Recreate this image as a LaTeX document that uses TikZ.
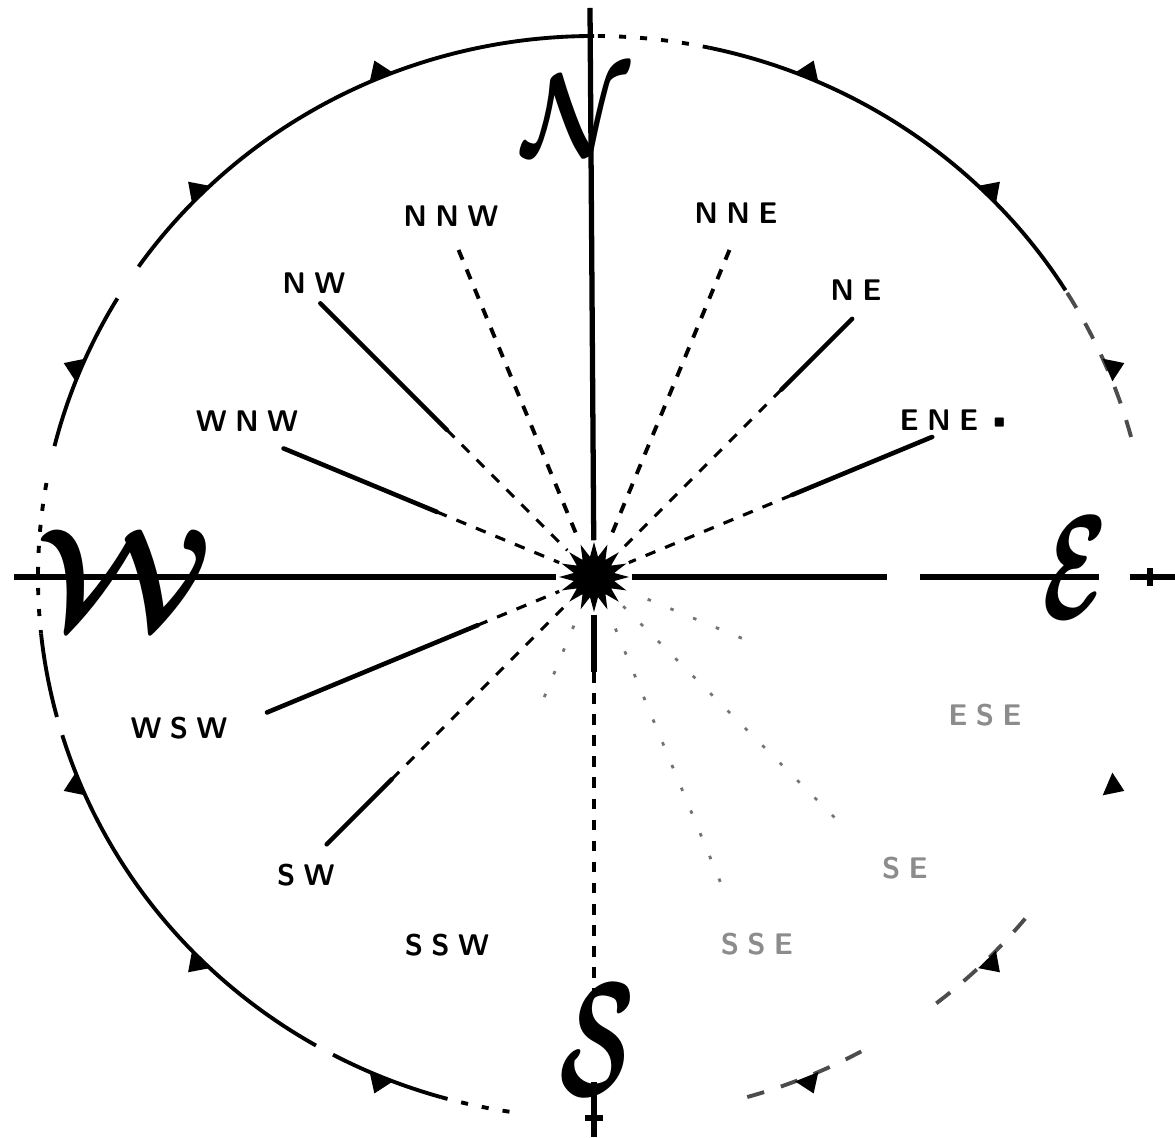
\documentclass[tikz,border=0pt]{standalone}
\usepackage{amsmath}
\usetikzlibrary{shapes.geometric}

\begin{document}
\begin{tikzpicture}[x=0.1mm, y=0.1mm,
    rim/.style={line width=1.1pt},
    axis/.style={line width=1.5pt},
    ray/.style={line width=1.3pt, line cap=round},
    dashray/.style={line width=0.9pt, dash pattern=on 3pt off 3pt},
    dotray/.style={line width=0.8pt, black!55, dash pattern=on 1pt off 6pt},
    lbl/.style={font=\sffamily\bfseries\fontsize{8.5}{8.5}\selectfont, inner sep=0},
    fadedlbl/.style={lbl, black!45},
    cardinal/.style={inner sep=0}]
  \useasboundingbox (-594,-560) rectangle (581,577);

  % hub
  \node[star, star points=16, star point ratio=1.7, fill, inner sep=0,
        minimum size=7mm] (hub) at (0,0) {};

  % rim of the card
  \foreach \a/\b in {90/145, 149/166, 186/195, 197/240, 242/254, 32/78}
    \draw[rim] (\a:556 and 541) arc[start angle=\a, end angle=\b, x radius=556, y radius=541];
  \foreach \a/\b in {78/90, 254/262, 170/186}
    \draw[rim, dash pattern=on 2pt off 4pt] (\a:556 and 541) arc[start angle=\a, end angle=\b, x radius=556, y radius=541];
  \foreach \a/\b in {15/32, 286/300, 308/322}
    \draw[rim, black!70, dash pattern=on 5pt off 5pt] (\a:556 and 541) arc[start angle=\a, end angle=\b, x radius=556, y radius=541];

  % small marks on the rim
  \foreach \a in {22.5,45,67.5,112.5,135,157.5,202.5,225,247.5,292.5,315,337.5}
    \fill ({\a-1.3}:556 and 541) -- (\a:574 and 559) -- ({\a+1.3}:556 and 541) -- cycle;

  % cardinal axes
  \coordinate (ntop) at (-4,569);
  \coordinate (wend) at (-580,0);
  \coordinate (eend) at (581,0);
  \coordinate (send) at (0,-560);
  \draw[axis] (hub) -- (ntop);
  \draw[axis] (hub) -- (wend);
  \draw[axis] (hub) -- (293,0);
  \draw[axis] (326,0) -- (505,0);
  \draw[axis] (536,0) -- (eend);
  \draw[axis] (556,-9) -- (556,9);
  \draw[axis] (hub) -- (0,-95);
  \draw[dashray] (0,-95) -- (0,-415);
  \draw[axis] (0,-505) -- (send);
  \draw[axis] (-9,-541) -- (9,-541);

  % named spokes: solid part and the run in to the hub
  \foreach \name/\ang/\ro/\ri in {nw/135/387/208, wnw/157.5/336/170,
                                  ne/45/365/265, ene/22.5/366/214,
                                  wsw/202.5/354/126, sw/225/378/286}{
    \coordinate (\name-out) at (\ang:\ro);
    \coordinate (\name-in) at (\ang:\ri);
    \draw[ray] (\name-out) -- (\name-in);
    \draw[dashray] (\name-in) -- (hub);
  }
  \coordinate (nnw-out) at (112.5:354);
  \draw[dashray, line width=1.1pt] (nnw-out) -- (hub);
  \coordinate (nne-out) at (67.5:354);
  \draw[dashray, line width=1.1pt] (nne-out) -- (hub);
  \foreach \name/\ang/\ro in {ssw/247.5/130, sse/292.5/330, se/315/340, ese/337.5/160}{
    \coordinate (\name-out) at (\ang:\ro);
    \draw[dotray] (\name-out) -- (hub);
  }

  % point names
  \node[lbl] (l-nnw) at (-143,361) {N\;N\;W};
  \node[lbl] (l-nw) at (-280,294) {N\;W};
  \node[lbl] (l-wnw) at (-347,156) {W\;N\;W};
  \node[lbl] (l-nne) at (142,364) {N\;N\;E};
  \node[lbl] (l-ne) at (262,287) {N\;E};
  \node[lbl] (l-ene) at (362,157) {E\;N\;E\;\textbullet};
  \node[lbl] (l-wsw) at (-415,-151) {W\;S\;W};
  \node[lbl] (l-sw) at (-288,-298) {S\;W};
  \node[lbl] (l-ssw) at (-147,-368) {S\;S\;W};
  \node[fadedlbl] (l-ese) at (391,-138) {E\;S\;E};
  \node[fadedlbl] (l-se) at (311,-291) {S\;E};
  \node[fadedlbl] (l-sse) at (163,-367) {S\;S\;E};

  % the four quarters
  \node[cardinal, xscale=2.8, yscale=3.3] (north) at (-18,462) {$\boldsymbol{\mathcal{N}}$};
  \node[cardinal, scale=4] (west) at (-469,-1) {$\boldsymbol{\mathcal{W}}$};
  \node[cardinal, xscale=2.7, yscale=4.2] (east) at (481,9) {$\boldsymbol{\mathcal{E}}$};
  \node[cardinal, xscale=2.8, yscale=4.6] (south) at (3,-463) {$\boldsymbol{\mathcal{S}}$};
\end{tikzpicture}
\end{document}
